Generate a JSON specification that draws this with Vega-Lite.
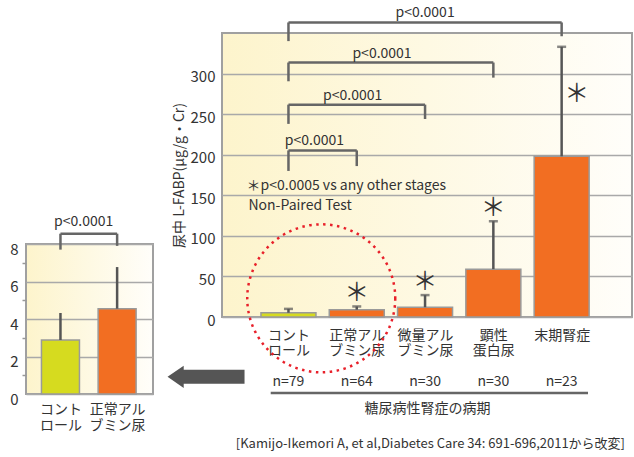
{
  "$schema": "https://vega.github.io/schema/vega-lite/v6.json",
  "padding": {"left": 8, "top": 5, "right": 0, "bottom": 0},
  "background": "white",
  "config": {"font": "Noto Sans CJK JP", "axis": {"labelOverlap": false}},
  "spacing": 12,
  "hconcat": [
    {
      "spacing": 0,
      "vconcat": [
        {
          "width": 10,
          "height": 179,
          "view": {"stroke": "transparent", "fill": null},
          "data": {"values": [{}]},
          "mark": {"type": "point", "opacity": 0},
          "encoding": {}
        },
        {
          "width": 127,
          "height": 150,
          "view": {
            "stroke": "#a0a0a0",
            "strokeWidth": 2,
            "fill": {"gradient": "linear", "x1": 0, "x2": 1, "y1": 0, "y2": 0,
              "stops": [{"offset": 0, "color": "#fdf4cc"}, {"offset": 1, "color": "#fffefa"}]}
          },
          "data": {"values": [
            {"stage": "コントロール", "pos": 0, "mean": 2.88, "upper": 4.32, "grp": "c"},
            {"stage": "正常アルブミン尿", "pos": 1, "mean": 4.55, "upper": 6.77, "grp": "d"}
          ]},
          "encoding": {
            "x": {"field": "pos", "type": "quantitative",
              "scale": {"domain": [-0.52, 1.545], "nice": false, "zero": false},
              "axis": {"values": [0, 1], "labelExpr": "[['コント','ロール'],['正常アル','ブミン尿']][datum.value]",
                "domain": false, "ticks": false, "grid": false, "labelFontSize": 14, "labelColor": "#333",
                "labelPadding": 8, "labelLineHeight": 16, "labelBaseline": "top", "labelFlush": false, "labelOverlap": false, "title": null}},
            "y": {"field": "mean", "type": "quantitative",
              "scale": {"domain": [0, 8], "nice": false, "zero": true},
              "axis": {"values": [0, 1, 2, 3, 4, 5, 6, 7, 8], "domain": false, "ticks": true, "tickSize": 4,
                "tickColor": "#999", "tickWidth": 1.5,
                "tickOpacity": {"condition": {"test": "datum.value % 2 == 0", "value": 0}, "value": 1},
                "grid": true, "gridColor": "#a9a9a9", "gridWidth": 1.5,
                "gridOpacity": {"condition": {"test": "datum.value % 2 == 1", "value": 0}, "value": 1},
                "labelExpr": "datum.value % 2 == 0 ? datum.label : ''",
                "labelFontSize": 15, "labelColor": "#333",
                "labelPadding": 4, "labelOffset": 5, "labelOverlap": false, "labelFlush": false, "title": null}}
          },
          "layer": [
            {
              "mark": {"type": "bar", "width": 38, "stroke": "#9a9a9a", "strokeWidth": 1.5},
              "encoding": {
                "color": {"field": "grp", "type": "nominal",
                  "scale": {"domain": ["c", "d"], "range": ["#d6db1f", "#f26e22"]}, "legend": null}
              }
            },
            {
              "mark": {"type": "rule", "color": "#555", "strokeWidth": 2.5},
              "encoding": {
                "y2": {"field": "upper"}
              }
            },
            {
              "data": {"values": [{"pos": 0, "b": 1, "mean": 8.55, "ya": 7.7, "yb": 7.9, "mid": 0.41, "label": "p<0.0001"}]},
              "mark": {"type": "rule", "color": "#666", "strokeWidth": 2.5},
              "encoding": {"x2": {"field": "b"}}
            },
            {
              "data": {"values": [{"pos": 0, "b": 1, "mean": 8.55, "ya": 7.7, "yb": 7.9, "mid": 0.41, "label": "p<0.0001"}]},
              "mark": {"type": "rule", "color": "#666", "strokeWidth": 2.5},
              "encoding": {"y2": {"field": "ya"}}
            },
            {
              "data": {"values": [{"pos": 1, "b": 1, "mean": 8.55, "ya": 7.7, "yb": 7.9, "mid": 0.41, "label": "p<0.0001"}]},
              "mark": {"type": "rule", "color": "#666", "strokeWidth": 2.5},
              "encoding": {"y2": {"field": "yb"}}
            },
            {
              "data": {"values": [{"pos": 0.41, "mean": 8.55, "label": "p<0.0001"}]},
              "mark": {"type": "text", "fontSize": 14, "color": "#333", "baseline": "bottom", "dy": -5},
              "encoding": {"text": {"field": "label"}}
            }
          ]
        }
      ]
    },
    {
      "width": 410,
      "height": 284,
      "view": {
        "stroke": "#a0a0a0",
        "strokeWidth": 2,
        "fill": {"gradient": "linear", "x1": 0, "x2": 1, "y1": 0, "y2": 0,
          "stops": [{"offset": 0, "color": "#fdf4cc"}, {"offset": 1, "color": "#fffefa"}]}
      },
      "title": {"text": "[Kamijo-Ikemori A, et al,Diabetes Care 34: 691-696,2011から改変]", "orient": "bottom",
        "anchor": "end", "fontSize": 13, "fontWeight": "normal", "color": "#333", "offset": 23, "dx": -7},
      "data": {"values": [
        {"stage": "コントロール", "pos": 0, "mean": 5.3, "upper": 10, "grp": "c", "star": 0, "n": "n=79"},
        {"stage": "正常アルブミン尿", "pos": 1, "mean": 9, "upper": 13, "grp": "d", "star": 1, "n": "n=64"},
        {"stage": "微量アルブミン尿", "pos": 2, "mean": 12, "upper": 27, "grp": "d", "star": 1, "n": "n=30"},
        {"stage": "顕性蛋白尿", "pos": 3, "mean": 59, "upper": 118, "grp": "d", "star": 1, "n": "n=30"},
        {"stage": "末期腎症", "pos": 4, "mean": 198, "upper": 333, "grp": "d", "star": 0, "n": "n=23"}
      ]},
      "layer": [
        {
          "mark": {"type": "bar", "width": 55, "stroke": "#9a9a9a", "strokeWidth": 1.5},
          "encoding": {
            "x": {"field": "pos", "type": "quantitative",
              "scale": {"domain": [-0.9, 4.957], "nice": false, "zero": false},
              "axis": {"values": [0, 1, 2, 3, 4],
                "labelExpr": "[['コント','ロール'],['正常アル','ブミン尿'],['微量アル','ブミン尿'],['顕性','蛋白尿'],['末期腎症']][datum.value]",
                "domain": false, "ticks": false, "grid": false, "labelFontSize": 14, "labelColor": "#333",
                "labelPadding": 11, "labelLineHeight": 15.3, "labelBaseline": "top", "labelFlush": false, "labelOverlap": false,
                "title": "糖尿病性腎症の病期", "titleFontSize": 14, "titleFontWeight": "normal", "titleColor": "#333", "titlePadding": 44}},
            "y": {"field": "mean", "type": "quantitative",
              "scale": {"domain": [0, 350], "nice": false},
              "axis": {"values": [0, 50, 100, 150, 200, 250, 300], "domain": false, "ticks": false, "grid": true,
                "gridColor": "#a9a9a9", "gridWidth": 1.5, "labelFontSize": 15, "labelColor": "#333",
                "labelPadding": 7, "labelOffset": 3, "labelOverlap": false,
                "title": "尿中 L-FABP(μg/g・Cr)", "titleFontSize": 14, "titleFontWeight": "normal", "titleColor": "#333", "titlePadding": 4}},
            "color": {"field": "grp", "type": "nominal",
              "scale": {"domain": ["c", "d"], "range": ["#d6db1f", "#f26e22"]}, "legend": null}
          }
        },
        {
          "mark": {"type": "rule", "color": "#555", "strokeWidth": 2.5},
          "encoding": {
            "x": {"field": "pos", "type": "quantitative"},
            "y": {"field": "mean", "type": "quantitative"},
            "y2": {"field": "upper"}
          }
        },
        {
          "mark": {"type": "tick", "orient": "horizontal", "size": 9, "thickness": 2.5, "color": "#555"},
          "encoding": {
            "x": {"field": "pos", "type": "quantitative"},
            "y": {"field": "upper", "type": "quantitative"}
          }
        },
        {
          "transform": [{"filter": "datum.star == 1"}],
          "mark": {"type": "text", "text": "＊", "fontSize": 25, "color": "#333", "baseline": "middle", "dy": -13},
          "encoding": {
            "x": {"field": "pos", "type": "quantitative"},
            "y": {"field": "upper", "type": "quantitative"}
          }
        },
        {
          "mark": {"type": "text", "fontSize": 14, "color": "#333", "baseline": "middle"},
          "encoding": {
            "x": {"field": "pos", "type": "quantitative"},
            "y": {"datum": -79.8, "type": "quantitative"},
            "text": {"field": "n"}
          }
        },
        {
          "data": {"values": [{"t": "＊"}]},
          "mark": {"type": "text", "fontSize": 25, "color": "#333", "baseline": "middle"},
          "encoding": {
            "x": {"datum": 4.22, "type": "quantitative"},
            "y": {"datum": 275, "type": "quantitative"},
            "text": {"field": "t"}
          }
        },
        {
          "data": {"values": [
            {"a": 0, "b": 4, "y": 363, "ya": 340, "yb": 346, "mid": 2.0, "label": "p<0.0001"},
            {"a": 0, "b": 3, "y": 313.6, "ya": 290.5, "yb": 295, "mid": 1.37, "label": "p<0.0001"},
            {"a": 0, "b": 2, "y": 261.7, "ya": 238, "yb": 244, "mid": 0.94, "label": "p<0.0001"},
            {"a": 0, "b": 1, "y": 205.3, "ya": 180, "yb": 186, "mid": 0.38, "label": "p<0.0001"}
          ]},
          "layer": [
            {"mark": {"type": "rule", "color": "#666", "strokeWidth": 2.5},
             "encoding": {"x": {"field": "a", "type": "quantitative"}, "x2": {"field": "b"}, "y": {"field": "y", "type": "quantitative"}}},
            {"mark": {"type": "rule", "color": "#666", "strokeWidth": 2.5},
             "encoding": {"x": {"field": "a", "type": "quantitative"}, "y": {"field": "y", "type": "quantitative"}, "y2": {"field": "ya"}}},
            {"mark": {"type": "rule", "color": "#666", "strokeWidth": 2.5},
             "encoding": {"x": {"field": "b", "type": "quantitative"}, "y": {"field": "y", "type": "quantitative"}, "y2": {"field": "yb"}}},
            {"mark": {"type": "text", "fontSize": 14, "color": "#333", "baseline": "bottom", "dy": -2},
             "encoding": {"x": {"field": "mid", "type": "quantitative"}, "y": {"field": "y", "type": "quantitative"}, "text": {"field": "label"}}}
          ]
        },
        {
          "data": {"values": [{"t": "＊p<0.0005 vs any other stages"}]},
          "mark": {"type": "text", "fontSize": 14, "color": "#333", "align": "left", "baseline": "middle"},
          "encoding": {
            "x": {"datum": -0.614, "type": "quantitative"},
            "y": {"datum": 161.7, "type": "quantitative"},
            "text": {"field": "t"}
          }
        },
        {
          "data": {"values": [{"t": "Non-Paired Test"}]},
          "mark": {"type": "text", "fontSize": 14, "color": "#333", "align": "left", "baseline": "middle"},
          "encoding": {
            "x": {"datum": -0.586, "type": "quantitative"},
            "y": {"datum": 137, "type": "quantitative"},
            "text": {"field": "t"}
          }
        },
        {
          "data": {"values": [{}]},
          "mark": {"type": "point", "shape": "circle", "filled": false, "size": 21900, "stroke": "#e8202a",
            "strokeWidth": 2.5, "strokeDash": [2.5, 4.5], "opacity": 1},
          "encoding": {
            "x": {"datum": 0.48, "type": "quantitative"},
            "y": {"datum": 23, "type": "quantitative"}
          }
        },
        {
          "data": {"values": [{}]},
          "mark": {"type": "point", "shape": "M -1 0 L -0.58 -0.29 L -0.58 -0.18 L 1 -0.18 L 1 0.18 L -0.58 0.18 L -0.58 0.29 Z",
            "filled": true, "size": 5929, "color": "#555", "opacity": 1, "strokeWidth": 0},
          "encoding": {
            "x": {"datum": -1.207, "type": "quantitative"},
            "y": {"datum": -73.7, "type": "quantitative"}
          }
        },
        {
          "data": {"values": [{}]},
          "mark": {"type": "rule", "color": "#666", "strokeWidth": 2.5},
          "encoding": {
            "x": {"datum": -0.26, "type": "quantitative"},
            "x2": {"datum": 4.386},
            "y": {"datum": -93.8, "type": "quantitative"}
          }
        }
      ]
    }
  ]
}
